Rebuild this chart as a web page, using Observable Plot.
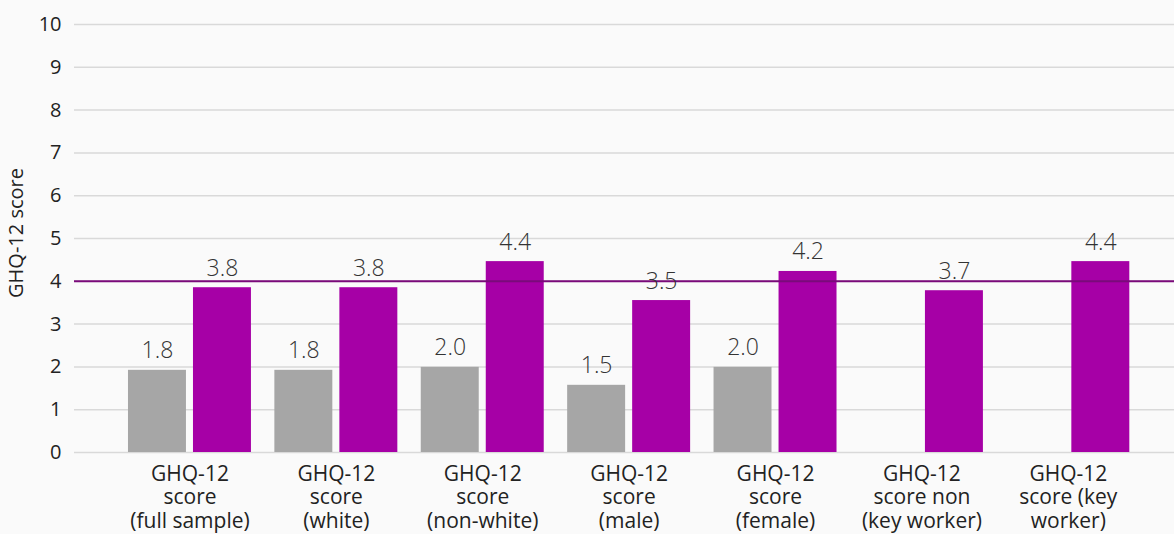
<!DOCTYPE html>
<html><head><meta charset="utf-8">
<script src="https://cdn.jsdelivr.net/npm/d3@7"></script>
<script src="https://cdn.jsdelivr.net/npm/@observablehq/plot@0.6"></script>
<style>
html,body{margin:0;padding:0;background:#fafafa;}
</style></head><body><div id="chart"></div>
<script>
const categories = [
  "GHQ-12\nscore\n(full sample)",
  "GHQ-12\nscore\n(white)",
  "GHQ-12\nscore\n(non-white)",
  "GHQ-12\nscore\n(male)",
  "GHQ-12\nscore\n(female)",
  "GHQ-12\nscore non\n(key worker)",
  "GHQ-12\nscore (key\nworker)"
];
const greyValues = [1.92, 1.92, 1.99, 1.57, 1.99, null, null];
const greyLabels = ["1.8", "1.8", "2.0", "1.5", "2.0", null, null];
const purpleValues = [3.85, 3.85, 4.46, 3.55, 4.23, 3.78, 4.46];
const purpleLabels = ["3.8", "3.8", "4.4", "3.5", "4.2", "3.7", "4.4"];
const thresholdValue = [4];
const yTicks = [0, 1, 2, 3, 4, 5, 6, 7, 8, 9, 10];
const yLabel = "GHQ-12 score";

const greyRows = categories.map((c, i) => ({category: c, value: greyValues[i], label: greyLabels[i]})).filter(d => d.value != null);
const purpleRows = categories.map((c, i) => ({category: c, value: purpleValues[i], label: purpleLabels[i]}));

const chart = Plot.plot({
  width: 1174,
  height: 534,
  marginLeft: 74,
  marginRight: 0,
  marginTop: 24,
  marginBottom: 82,
  style: {fontFamily: "'Open Sans', sans-serif", background: "transparent", color: "#333"},
  x: {domain: categories, paddingInner: 0.16, paddingOuter: 0.337, align: 0.547, round: false, axis: null},
  y: {domain: [0, 10], axis: null},
  marks: [
    Plot.gridY(yTicks, {stroke: "#d9d9d9", strokeOpacity: 1, strokeWidth: 1.5}),
    Plot.axisY(yTicks, {tickSize: 0, tickPadding: 13, fontSize: 20, fill: "#222", label: null}),
    Plot.text([yLabel], {frameAnchor: "left", rotate: -90, dx: -57.5, dy: -5.5, fontSize: 20, textAnchor: "middle", lineAnchor: "middle", fill: "#222"}),
    Plot.axisX({tickSize: 0, tickPadding: 12, fontSize: 21, lineHeight: 1.11, fill: "#222", label: null, style: {letterSpacing: "0.7px"}}),
    Plot.barY(greyRows, {x: "category", y: "value", fill: "#a6a6a6", insetRight: 65}),
    Plot.barY(purpleRows, {x: "category", y: "value", fill: "#a600a6", insetLeft: 65}),
    Plot.ruleY(thresholdValue, {stroke: "#7a0a7a", strokeWidth: 2}),
    Plot.text(greyRows, {x: "category", y: "value", text: "label", dx: -32.5, dy: -12, lineAnchor: "bottom", fontSize: 23, fontWeight: 300, fill: "#333"}),
    Plot.text(purpleRows, {x: "category", y: "value", text: "label", dx: 32.5, dy: -12, lineAnchor: "bottom", fontSize: 23, fontWeight: 300, fill: "#333"})
  ]
});
document.getElementById("chart").appendChild(chart);
</script>
</body></html>
